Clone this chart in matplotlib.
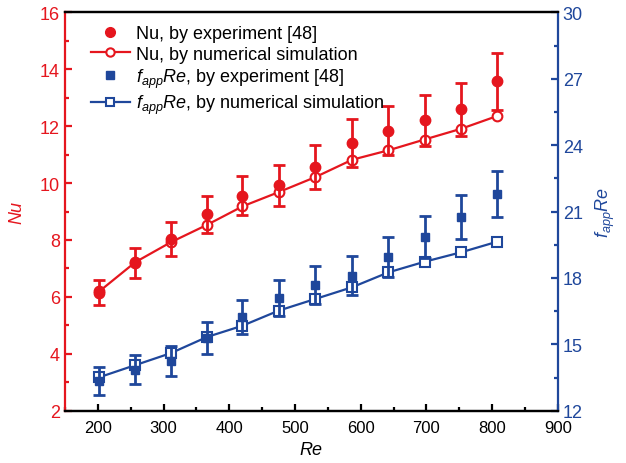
import matplotlib
matplotlib.use("Agg")
import matplotlib.pyplot as plt
from matplotlib.lines import Line2D
from matplotlib.ticker import MultipleLocator

plt.rcParams["font.family"] = ["Liberation Sans", "DejaVu Sans"]
plt.rcParams["mathtext.fontset"] = "custom"
plt.rcParams["mathtext.rm"] = "Liberation Sans"
plt.rcParams["mathtext.it"] = "Liberation Sans:italic"

RED = "#e5161e"
BLUE = "#1f479b"

# Reynolds numbers of the test points
re = [202, 257, 311, 366, 420, 475, 531, 587, 642, 697, 753, 808]

# Nusselt number: experiment [48] (with uncertainty) and simulation
nu_exp = [6.15, 7.20, 8.04, 8.90, 9.56, 9.92, 10.56, 11.41, 11.84, 12.20, 12.60, 13.57]
nu_err = [0.44, 0.52, 0.59, 0.65, 0.70, 0.72, 0.78, 0.85, 0.87, 0.90, 0.93, 1.00]
nu_sim = [6.19, 7.22, 7.92, 8.53, 9.18, 9.68, 10.21, 10.82, 11.15, 11.53, 11.91, 12.36]

# apparent Poiseuille number f_app*Re
fre_exp = [13.33, 13.86, 14.26, 15.27, 16.24, 17.10, 17.68, 18.10, 18.95, 19.84, 20.76, 21.80]
fre_err = [0.63, 0.66, 0.68, 0.72, 0.78, 0.82, 0.86, 0.87, 0.92, 0.95, 1.00, 1.05]
fre_sim = [13.51, 14.06, 14.60, 15.33, 15.84, 16.52, 17.05, 17.58, 18.25, 18.73, 19.16, 19.64]

labels = ["Nu, by experiment [48]", "Nu, by numerical simulation",
          r"$f_{app}Re$, by experiment [48]", r"$f_{app}Re$, by numerical simulation"]

fig = plt.figure(figsize=(6.26, 4.64), dpi=100)
ax = fig.add_axes([0.1038, 0.1127, 0.7875, 0.8586])
ax2 = ax.twinx()

# Nu on the left axis
ax.plot(re, nu_sim, "-o", color=RED, lw=1.6, ms=7, mfc="white", mec=RED, mew=1.5, zorder=3)
ax.errorbar(re, nu_exp, yerr=nu_err, fmt="o", color=RED, ms=7.5, elinewidth=2,
            capsize=4, capthick=2, zorder=4)

# f_app*Re on the right axis
ax2.plot(re, fre_sim, "-s", color=BLUE, lw=1.6, ms=6.5, mfc="white", mec=BLUE, mew=1.5, zorder=3)
ax2.errorbar(re, fre_exp, yerr=fre_err, fmt="s", color=BLUE, ms=6, elinewidth=2,
             capsize=4, capthick=2, zorder=4)

ax.set_xlim(150, 900)
ax.set_ylim(2, 16)
ax2.set_ylim(12, 30)
ax.xaxis.set_major_locator(MultipleLocator(100))
ax.xaxis.set_minor_locator(MultipleLocator(50))
ax.yaxis.set_major_locator(MultipleLocator(2))
ax.yaxis.set_minor_locator(MultipleLocator(1))
ax2.yaxis.set_major_locator(MultipleLocator(3))
ax2.yaxis.set_minor_locator(MultipleLocator(1.5))

for a in (ax, ax2):
    for s in a.spines.values():
        s.set_linewidth(1.6)
ax.spines["left"].set_color(RED)
ax2.spines["left"].set_visible(False)
ax.spines["right"].set_visible(False)
ax2.spines["right"].set_color(BLUE)

ax.tick_params(axis="x", which="both", direction="in", top=False, width=1.6,
               labelsize=12, pad=7, colors="black")
ax.tick_params(axis="x", which="major", length=5)
ax.tick_params(axis="x", which="minor", length=3)
ax.tick_params(axis="y", which="both", direction="in", width=1.6, colors=RED, labelsize=13)
ax.tick_params(axis="y", which="major", length=5)
ax.tick_params(axis="y", which="minor", length=3)
ax2.tick_params(axis="y", which="both", direction="in", width=1.6, colors=BLUE, labelsize=13)
ax2.tick_params(axis="y", which="major", length=5)
ax2.tick_params(axis="y", which="minor", length=3)

ax.set_xlabel("$Re$", fontsize=13, labelpad=4)
ax.set_ylabel("$Nu$", fontsize=13, color=RED, labelpad=10)
ax2.set_ylabel("$f_{app}Re$", fontsize=13, color=BLUE, labelpad=8)

handles = [
    Line2D([], [], ls="none", marker="o", color=RED, ms=7),
    Line2D([], [], ls="-", lw=1.6, marker="o", color=RED, ms=6, mfc="white", mew=1.5),
    Line2D([], [], ls="none", marker="s", color=BLUE, ms=6),
    Line2D([], [], ls="-", lw=1.6, marker="s", color=BLUE, ms=5.5, mfc="white", mew=1.5),
]
leg = ax.legend(handles, labels, loc="upper left", bbox_to_anchor=(0.03, 0.995),
                frameon=False, fontsize=13, handlelength=2.2, handletextpad=0.3,
                labelspacing=0.2, borderaxespad=0.2)
leg.set_zorder(10)

fig.savefig("out.png", dpi=100)
